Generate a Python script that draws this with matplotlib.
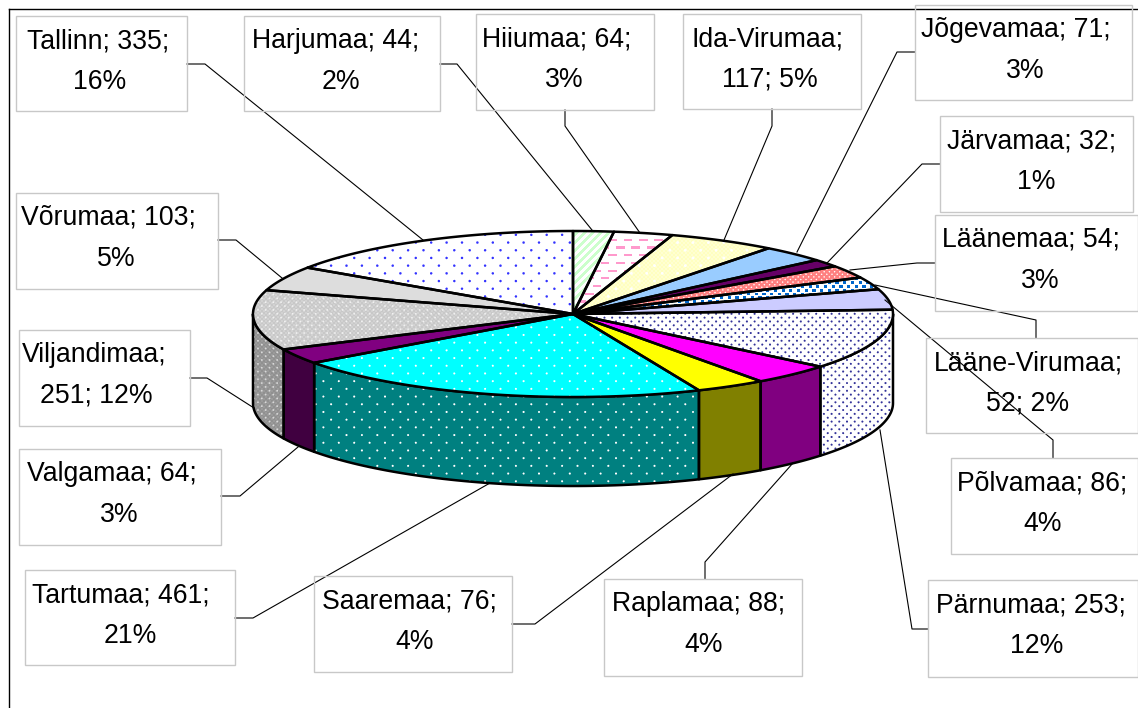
import matplotlib
matplotlib.use("Agg")
import matplotlib.pyplot as plt
from matplotlib.patches import Polygon, Rectangle
import numpy as np

# data, clockwise from the Tallinn slice
names = ['Tallinn', 'Harjumaa', 'Hiiumaa', 'Ida-Virumaa', 'Jõgevamaa', 'Järvamaa', 'Läänemaa',
         'Lääne-Virumaa', 'Põlvamaa', 'Pärnumaa', 'Raplamaa', 'Saaremaa', 'Tartumaa', 'Valgamaa',
         'Viljandimaa', 'Võrumaa']
values = [335, 44, 64, 117, 71, 32, 54, 52, 86, 253, 88, 76, 461, 64, 251, 103]
early_break = ['Ida-Virumaa', 'Viljandimaa', 'Lääne-Virumaa']

W, H = 1138, 708
cx, cy, rx, ry, depth = 573, 314, 320, 83, 89
start = -values[0] / sum(values) * 360

yy, xx = np.mgrid[0:H, 0:W] + 0.5


def rgb(c):
    return np.array(matplotlib.colors.to_rgb(c))


def blend(mask, fg, bg):
    if isinstance(bg, str):
        bg = np.ones((H, W, 3)) * rgb(bg)
    return mask[..., None] * rgb(fg) + (1 - mask[..., None]) * bg


def solid(c):
    return np.ones((H, W, 3)) * rgb(c)


def dots(fg, bg, px, py, r):
    row = np.floor(yy / py)
    dx = (xx + (row % 2) * px / 2) % px - px / 2
    dy = yy % py - py / 2
    d = np.hypot(dx, dy)
    return blend(np.clip(r + 0.5 - d, 0, 1), fg, bg)


def stripes(fg, bg, period, width):
    return blend(((xx + yy) % period < width).astype(float), fg, bg)


def blocks(fg, bg, px, py, w, h):
    row = np.floor(yy / py)
    dx = (xx + (row % 2) * px / 2) % px
    dy = yy % py
    return blend(((dx < w) & (dy < h)).astype(float), fg, bg)


top_fill = [
    dots('#3333ff', 'white', 15.4, 7.7, 1.2),
    stripes('#ccffcc', 'white', 8, 3.5),
    blocks('#ff99cc', 'white', 15.4, 7.7, 8.5, 2.2),
    dots('white', dots('white', '#ffffc0', 4, 2, 0.5), 15.4, 7.7, 1.4),
    solid('#99ccff'),
    solid('#660066'),
    dots('white', '#ff8080', 5.2, 2.6, 0.7),
    blocks('#0066cc', 'white', 7.7, 3.85, 3.2, 2.8),
    solid('#ccccff'),
    dots('#333399', 'white', 7.7, 3.85, 1.0),
    solid('#ff00ff'),
    solid('#ffff00'),
    dots('white', '#00ffff', 15.4, 7.7, 1.0),
    solid('#800080'),
    dots('#f0f0f0', dots('white', '#c8c8c8', 4, 2, 0.4), 7.7, 3.85, 0.9),
    solid('#dddddd'),
]
wall_fill = {
    'Pärnumaa': dots('#333399', 'white', 7.7, 3.85, 1.0),
    'Raplamaa': solid('#800080'),
    'Saaremaa': solid('#808000'),
    'Tartumaa': dots('white', '#008080', 15.4, 7.7, 1.0),
    'Valgamaa': solid('#400040'),
    'Viljandimaa': dots('#d8d8d8', dots('#c8c8c8', '#909090', 4, 2, 0.4), 7.7, 3.85, 0.9),
}

fig = plt.figure(figsize=(W / 100, H / 100), dpi=100)
ax = fig.add_axes([0, 0, 1, 1])


def rim(a0, a1, dy=0):
    a = np.radians(np.linspace(a0, a1, 60))
    return np.column_stack([cx + rx * np.sin(a), cy + dy - ry * np.cos(a)])


def draw_piece(pts, img, z):
    poly = Polygon(pts, closed=True, facecolor='none', edgecolor='black', lw=1.8,
                   joinstyle='round', zorder=z + 0.5)
    ax.add_patch(poly)
    ax.imshow(img, extent=(0, W, H, 0), interpolation='nearest', aspect='auto', zorder=z, clip_path=poly)


edges = start + np.cumsum([0] + values) / sum(values) * 360

# side walls first, only the front half of the rim shows
for i, name in enumerate(names):
    if name not in wall_fill:
        continue
    a0, a1 = max(edges[i], 90), min(edges[i + 1], 270)
    upper = rim(a0, a1)
    lower = rim(a1, a0, depth)
    draw_piece(np.vstack([upper, lower]), wall_fill[name], 2)

for i in range(len(values)):
    pts = np.vstack([[cx, cy], rim(edges[i], edges[i + 1])])
    draw_piece(pts, top_fill[i], 3)

# labels: box x0, y0, x1, y1, leader line points, text nudges from the box centre
boxes = [(16, 16, 187, 111), (244, 16, 440, 111), (476, 14, 654, 110), (683, 14, 861, 109),
         (915, 5, 1132, 100), (940, 116, 1133, 212), (935, 215, 1138, 311), (926, 338, 1138, 433),
         (951, 458, 1138, 554), (928, 580, 1138, 677), (604, 579, 802, 676), (314, 576, 512, 672),
         (25, 570, 235, 665), (19, 449, 221, 545), (19, 330, 190, 426), (16, 193, 218, 289)]
leaders = [[(187, 64), (205, 64), (423, 240)], [(440, 64), (457, 64), (592, 230)],
           [(565, 110), (565, 126), (640, 233)], [(772, 109), (772, 126), (724, 240)],
           [(915, 52), (897, 52), (797, 252)], [(940, 164), (922, 164), (827, 263)],
           [(935, 263), (917, 263), (850, 270)], [(1036, 338), (1036, 320), (875, 285)],
           [(1053, 458), (1053, 440), (885, 300)], [(928, 629), (912, 629), (880, 430)],
           [(705, 579), (705, 562), (793, 463)], [(512, 624), (535, 624), (733, 474)],
           [(235, 618), (253, 618), (490, 483)], [(221, 496), (240, 496), (298, 447)],
           [(190, 378), (207, 378), (254, 408)], [(218, 240), (236, 240), (282, 278)]]
nudge1 = [-3.5, -6, -8, -4, -7.5, -5, -6, -4, -2.5, -2, -4, -4, -9, -8, -10, -9]
nudge2 = [-1.5, -1, -1, -2, 1.5, 0, 3.5, -4, -2, 3.5, 1, 2, 0, -1, -8, -1]

for i, name in enumerate(names):
    val = values[i]
    x0, y0, x1, y1 = boxes[i]
    line = leaders[i]
    pct = round(val / sum(values) * 100)
    if name in early_break:
        lines = [name + ';', f'{val}; {pct}%']
    else:
        lines = [f'{name}; {val};', f'{pct}%']
    ax.add_patch(Rectangle((x0, y0), x1 - x0, y1 - y0, fill=False, edgecolor='#c8c8c8', lw=1, zorder=5))
    xc = (x0 + x1) / 2
    ax.text(xc + nudge1[i], y0 + 25, lines[0], ha='center', va='center', fontsize=19.2, family='Liberation Sans', color='black', zorder=6)
    ax.text(xc + nudge2[i], y0 + 66, lines[1], ha='center', va='center', fontsize=19.2, family='Liberation Sans', color='black', zorder=6)
    ax.plot([p[0] for p in line], [p[1] for p in line], color='black', lw=0.8, zorder=4)

# outer chart border, runs off the top right
ax.plot([9, 9], [H, 9], color='black', lw=1, zorder=4)
ax.plot([9, W], [9, 9], color='black', lw=1, zorder=4)

ax.set_xlim(0, W)
ax.set_ylim(H, 0)
ax.axis('off')
fig.savefig('out.png', dpi=100)
